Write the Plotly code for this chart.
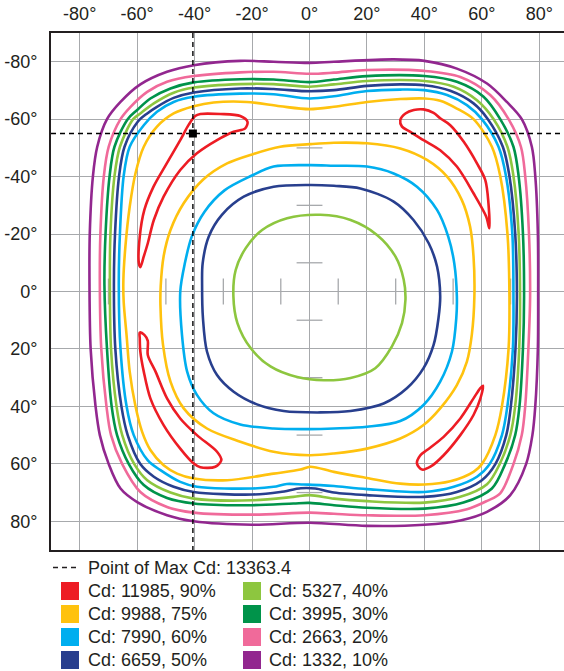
import plotly.graph_objects as go

# ---------------- data (degrees) ----------------
tick_vals = [-80, -60, -40, -20, 0, 20, 40, 60, 80]
tick_text = ["-80°", "-60°", "-40°", "-20°", "0°", "20°", "40°", "60°", "80°"]

max_cd = 13363.4
max_point = (-40.6, -55.0)

level_cd = [11985, 9988, 7990, 6659, 5327, 3995, 2663, 1332]
level_pct = [90, 75, 60, 50, 40, 30, 20, 10]
level_colors = ["#ED1C24", "#FFC20E", "#00AEEF", "#283F8E",
                "#8DC63F", "#00934A", "#F06A9A", "#92278F"]

center_tick_pos = [-70, -50, -30, -10, 10, 30, 50, 70]
center_tick_half = 4.5

c10 = [(0, -79.6), (8.5, -80.0), (29.3, -80.8), (40, -80.3), (51.3, -77.6), (61.8, -72.4),
       (68.7, -66.0), (73.9, -60.0), (77.4, -50.4), (78.6, -40.2), (79.5, -20.3), (79.6, 1.7),
       (79.5, 20), (78.6, 39.9), (77.6, 50), (75.4, 60.1), (69.9, 70.9), (61.8, 76.7),
       (52.5, 79.7), (40, 81.2), (20, 81.6), (0, 80.5), (-20, 81.2), (-40.3, 80), (-49.6, 77.9),
       (-60, 73.3), (-65.8, 68.6), (-69.9, 60.1), (-73, 50), (-74.5, 39.9), (-76.2, 20),
       (-76.6, -2.3), (-76.5, -20.3), (-75.4, -40.2), (-73.9, -50.4), (-70.5, -60), (-65.8, -66),
       (-58.9, -72.1), (-49.6, -76.5), (-40.3, -78.8), (-24.1, -80.3), (-12.5, -80), (0, -79.6)]

c20 = [(0, -75.8), (8.5, -76.2), (20, -77.1), (40, -76.8), (52.5, -74.7), (62.9, -68.4),
       (69.3, -60), (73.6, -50.4), (75.1, -40.2), (76.4, -20.3), (76.8, 1.7), (76.2, 20),
       (75.1, 39.9), (73.9, 50), (71, 60.1), (66.4, 70.3), (61.8, 72.9), (54.8, 75.8), (40, 77.9),
       (20, 77.9), (8.5, 77.4), (0, 77.0), (-20, 77.7), (-40.3, 77), (-49.6, 75), (-58.9, 69.8),
       (-65.2, 60.1), (-69.1, 50), (-70.7, 39.9), (-72.5, 20), (-73, -2.3), (-72.8, -20.3),
       (-71.6, -40.2), (-69.9, -50.4), (-65.8, -60), (-62.3, -64.3), (-56.5, -69.5), (-49.6, -73),
       (-40.3, -75), (-24.1, -76.3), (-12.5, -76.5), (0, -75.8)]

c30 = [(0, -72.9), (8.5, -73.8), (20, -75), (40, -75), (51.3, -73), (60.6, -67.8), (66.4, -60),
       (71, -50.4), (72.8, -40.2), (74.3, -20.3), (74.7, 1.7), (74.3, 20), (73.1, 39.9),
       (71.6, 50), (68.1, 60.1), (63.5, 68.6), (53.6, 73.5), (40, 75.6), (20, 75.3), (8.5, 74.4),
       (0, 73.6), (-5.6, 73.8), (-20, 74.4), (-40.3, 73.8), (-49.6, 71.9), (-57.7, 67.4),
       (-62.9, 60.1), (-67, 50), (-68.9, 39.9), (-70.5, 20), (-71.4, -2.3), (-71, -20.3),
       (-69.6, -40.2), (-67.9, -50.4), (-63.3, -60), (-60, -63.2), (-55.4, -67.2), (-48.4, -70.7),
       (-40.3, -72.8), (-24.1, -73.9), (-12.5, -73.8), (0, -72.9)]

c40_outer = [(0, -71.3), (8.5, -72.1), (20, -73.3), (40, -73.3), (50.2, -71.3), (58.3, -66.6),
             (64.1, -60), (68.9, -50.4), (71, -40.2), (72.8, -20.3), (73.3, 1.7), (73, 20),
             (71.6, 39.9), (69.9, 50), (66.2, 60.1), (61.8, 67.1), (52.5, 71.5), (40, 73.5),
             (20, 73), (8.5, 72.1), (0, 70.9), (-5.6, 71.5), (-20, 72.7), (-40.3, 72.1),
             (-48.4, 70), (-56.5, 65.7), (-61, 60.1), (-65.2, 50), (-67.2, 39.9), (-69.1, 20),
             (-69.5, -2.3), (-69.3, -20.3), (-67.9, -40.2), (-66, -50.4), (-61.4, -60),
             (-58.9, -62), (-54.2, -65.5), (-47.3, -69.2), (-40.3, -71), (-24.1, -72.2),
             (-12.5, -72.2), (0, -71.3)]

c40_inner = [(3.8, -26.7), (14.3, -24.9), (23.5, -19.7), (29.9, -12.2), (32.8, -4.1), (33.4, 2.9),
             (32.2, 11), (28.7, 19.1), (22.9, 26.7), (14.3, 30.1), (5, 30.9), (-4.3, 29.8),
             (-13.6, 26.1), (-20.5, 19.7), (-25.1, 11), (-26.5, 1.7), (-25.7, -7.5), (-22.2, -15.1),
             (-16.5, -21.4), (-7.8, -25.5), (3.8, -26.7)]

c50_outer = [(0, -69.7), (8.5, -70.1), (20, -71.6), (31.6, -72.1), (40, -71.8), (49, -69.9),
             (57.1, -65.5), (62.1, -60), (67.3, -50.4), (69.6, -40.2), (71.6, -20.3), (72.2, 1.7),
             (71.7, 20), (70.1, 39.9), (68.5, 50), (64.7, 60.1), (60, 65.7), (51.3, 69.8),
             (40, 71.5), (20, 70.9), (8.5, 70), (2, 68.6), (-3, 68.5), (-10.2, 69.8), (-20, 70.7),
             (-40.3, 69.8), (-47.3, 68), (-54.2, 64.5), (-58.9, 60.1), (-63.3, 50), (-65.5, 39.9),
             (-67.6, 20), (-68.1, -2.3), (-67.7, -20.3), (-66.3, -40.2), (-64.4, -50.4),
             (-59.8, -59.1), (-56.5, -62), (-53.1, -64.3), (-47.3, -67.4), (-40.3, -69.3),
             (-24.1, -70.7), (-12.5, -70.5), (0, -69.7)]

c50_inner = [(0, -37.1), (8.5, -36.8), (17.7, -35.9), (29.3, -31.3), (36.2, -24.9), (41.5, -16.8),
             (44.4, -8.7), (45.5, 1.7), (44.9, 9.3), (43.2, 18.6), (39.7, 26.7), (33.9, 33.7),
             (25.8, 39), (14.3, 41.6), (3.8, 42.1), (-9, 41.6), (-18.3, 39.3), (-26.4, 34.9),
             (-32.2, 29.1), (-35.7, 20.9), (-37.1, 9.3), (-37.4, -2.3), (-37.2, -9.8),
             (-35.1, -19.1), (-30.5, -26.7), (-22.9, -33), (-12.5, -36.5), (0, -37.1)]

c60_outer = [(0, -67.2), (8.5, -68), (20, -69.8), (31.6, -70.3), (40, -70.1), (47.9, -68.4),
             (54.8, -64.9), (60, -60), (65.8, -50.4), (68.4, -40.2), (70.6, -20.3), (71, 1.7),
             (70.8, 20), (68.9, 39.9), (67, 50), (62.7, 60.1), (58.3, 64.5), (50.2, 68), (40, 69.8),
             (20, 68.8), (8.5, 67.7), (3.7, 67.4), (-2.1, 67.2), (-7.9, 67), (-12.5, 68),
             (-20, 68.6), (-39.2, 68), (-45, 66.3), (-51.9, 62.2), (-56.3, 58.8), (-61.2, 50),
             (-63.7, 39.9), (-65.8, 20), (-66.4, -2.3), (-66, -20.3), (-64.7, -40.2),
             (-62.6, -50.4), (-57.7, -57.9), (-53.1, -62.6), (-47.3, -66), (-40.3, -67.8),
             (-24.1, -68.9), (-12.5, -68.7), (0, -67.2)]

c60_inner = [(0, -44), (8.5, -43.8), (20, -43.5), (29.3, -41.1), (37.4, -36.5), (44.4, -28.4),
             (48.3, -19.1), (50.4, -9.8), (51.3, 1.7), (51.1, 9.3), (49.6, 20.9), (45.5, 31.4),
             (39.7, 39.5), (31.6, 45.1), (20, 47.1), (8.5, 47.7), (0, 47.9), (-12.5, 47.7),
             (-24.1, 46.3), (-33.4, 42.4), (-39.2, 36), (-42.6, 27.9), (-44.4, 15.1), (-45, 0),
             (-43.4, -9.8), (-41, -19.1), (-36.6, -27.7), (-29.6, -35.2), (-20.2, -40.3),
             (-12.5, -43.5), (0, -44)]

c75_outer = [(0, -63.5), (8.5, -64.3), (20, -66), (31.6, -67), (40, -67.2), (45.5, -66.4),
             (51.3, -63.7), (57.1, -60), (63.5, -50.4), (66.4, -40.2), (68.9, -20.3), (69.6, 1.7),
             (69.3, 20), (67, 39.9), (64.7, 50), (60, 60.1), (57.1, 62.8), (49, 66.1), (40, 67.2),
             (31.6, 66.9), (20, 64.9), (8.5, 62.8), (0.3, 61), (-3.2, 62), (-12.5, 63.4),
             (-28.7, 65.7), (-40.3, 65.1), (-46.1, 63.4), (-50.8, 60.5), (-55.4, 55.2),
             (-58.3, 48.8), (-60.6, 39.9), (-62.6, 27.9), (-63.7, 15.1), (-64.7, 3.5),
             (-64.8, -4), (-64.1, -15.6), (-62.6, -29.5), (-60.6, -41.1), (-57.7, -50.4),
             (-53.1, -57.4), (-47.3, -62), (-40.3, -64.5), (-33.4, -65.8), (-21.8, -66),
             (-10.2, -64.5), (0, -63.5)]

c75_inner = [(0, -51.3), (8.5, -51.8), (20, -51.6), (31.6, -49.8), (40.9, -45.8), (47.9, -40),
             (53, -31.9), (55.9, -22.6), (57.1, -12.2), (57.4, 1.7), (56.5, 15.1), (54.8, 24.4),
             (51.3, 32.6), (45.5, 40.7), (39.7, 46.5), (31.6, 51.2), (20, 54.7), (8.5, 56.4),
             (0, 57), (-12.5, 55.8), (-24.1, 52.3), (-35.7, 47.7), (-43.8, 40.7), (-48.4, 31.4),
             (-51, 18.6), (-51.9, 4.7), (-51.8, -2), (-50.8, -12.2), (-48.4, -21.4),
             (-43.8, -30.7), (-37, -39), (-28.7, -44.6), (-19.5, -47.9), (-10.2, -50.4), (0, -51.3)]

c90_tl = [(-38, -61.8), (-31.1, -61.8), (-24.1, -61.1), (-21.6, -59.1), (-22.4, -56.8),
          (-26.4, -55.6), (-32.2, -52.7), (-39.2, -48.1), (-45, -42.3), (-50.8, -33),
          (-54.2, -24.9), (-56.3, -16.8), (-57.7, -12.2), (-58.9, -8.5), (-59.4, -9.8),
          (-59.1, -19.1), (-57.5, -28.4), (-54.3, -36.5), (-49.7, -44.6), (-45, -52.7),
          (-42.1, -58), (-39.8, -61.1), (-38, -61.8)]

c90_tr = [(36.3, -63.2), (39.7, -63.4), (43.2, -62.2), (45.5, -60.3), (49, -57.9), (53.7, -52.1),
          (58.3, -44.6), (61.2, -38.8), (62.3, -30.7), (62.6, -22), (61.5, -26.1), (57.1, -34.2),
          (51.3, -43.5), (45.5, -49.2), (39.7, -52.7), (35.1, -55.6), (32.2, -57.4),
          (31.6, -59.7), (33.4, -62), (36.3, -63.2)]

c90_br = [(60.4, 32.8), (59.5, 37.2), (57.1, 43), (52.5, 50), (46.7, 57), (42.1, 61), (39.2, 62),
          (37.4, 59.9), (38.6, 57), (40.9, 55.2), (46.7, 50.6), (52.5, 44.2), (57.1, 37.2),
          (59.4, 33.7), (60.4, 32.8)]

c90_bl = [(-59.1, 14.3), (-57.5, 15.1), (-56.3, 17.2), (-56.3, 22.1), (-53.6, 27.9), (-49.6, 37.2),
          (-45, 44.2), (-39.2, 50), (-32.2, 55.8), (-30.7, 58.7), (-32.8, 61), (-38, 61.2),
          (-40.3, 59.9), (-45, 54.7), (-50.8, 46.5), (-55.4, 37.2), (-57.7, 27.9), (-58.9, 20.9),
          (-59.1, 16.3), (-59.1, 14.3)]

level_curves = [
    [c90_tl, c90_tr, c90_br, c90_bl],
    [c75_outer, c75_inner],
    [c60_outer, c60_inner],
    [c50_outer, c50_inner],
    [c40_outer, c40_inner],
    [c30],
    [c20],
    [c10],
]

# ---------------- figure ----------------
TEXT = "#231F20"
GRID = "#A7A9AC"
FONT = "Liberation Sans, Arial, sans-serif"

fig = go.Figure()

# small cross ticks on the central axes
tx, ty = [], []
for p in center_tick_pos:
    tx += [p, p, None, -center_tick_half, center_tick_half, None]
    ty += [-center_tick_half, center_tick_half, None, p, p, None]
fig.add_trace(go.Scatter(x=tx, y=ty, mode="lines", line=dict(color=GRID, width=1.3),
                         hoverinfo="skip", showlegend=False))

# contours (outermost first)
for idx in reversed(range(len(level_cd))):
    for curve in level_curves[idx]:
        fig.add_trace(go.Scatter(
            x=[p[0] for p in curve], y=[p[1] for p in curve], mode="lines",
            line=dict(color=level_colors[idx], width=2.6, shape="spline", smoothing=0.9),
            hoverinfo="skip", showlegend=False))

# max point crosshair
fig.add_trace(go.Scatter(x=[max_point[0], max_point[0]], y=[-90, 90], mode="lines",
                         line=dict(color="black", width=1.4, dash="5px,4px"),
                         hoverinfo="skip", showlegend=False))
fig.add_trace(go.Scatter(x=[-90, 90], y=[max_point[1], max_point[1]], mode="lines",
                         line=dict(color="black", width=1.4, dash="5px,4px"),
                         hoverinfo="skip", showlegend=False))
fig.add_trace(go.Scatter(x=[max_point[0]], y=[max_point[1]], mode="markers",
                         marker=dict(symbol="square", size=8, color="black"),
                         hoverinfo="skip", showlegend=False))

# ---------------- legend (below the plot) ----------------
L, W, B, H = 51, 513, 550, 517


def px_x(px):
    return (px - L) / W


def px_y(py):
    return (B - py) / H


shapes = []
annotations = []
leg_y0 = 567.5
shapes.append(dict(type="line", xref="paper", yref="paper",
                   x0=px_x(53), x1=px_x(80), y0=px_y(leg_y0), y1=px_y(leg_y0),
                   line=dict(color=TEXT, width=1.5, dash="5px,4px")))
annotations.append(dict(xref="paper", yref="paper", x=px_x(86), y=px_y(leg_y0),
                        xanchor="left", yanchor="middle", showarrow=False,
                        text=f"Point of Max Cd: {max_cd}",
                        font=dict(family=FONT, size=18, color=TEXT)))
row_centers = [591, 614, 637, 660]
col_sq = [61, 243]
col_tx = [86, 267]
for i in range(len(level_cd)):
    col, row = divmod(i, 4)
    cy = row_centers[row]
    shapes.append(dict(type="rect", xref="paper", yref="paper",
                       x0=px_x(col_sq[col]), x1=px_x(col_sq[col] + 18),
                       y0=px_y(cy - 9), y1=px_y(cy + 9),
                       fillcolor=level_colors[i], line=dict(width=0)))
    annotations.append(dict(xref="paper", yref="paper", x=px_x(col_tx[col]), y=px_y(cy),
                            xanchor="left", yanchor="middle", showarrow=False,
                            text=f"Cd: {level_cd[i]}, {level_pct[i]}%",
                            font=dict(family=FONT, size=18, color=TEXT)))

axis_common = dict(
    tickvals=tick_vals, ticktext=tick_text, showgrid=True, gridcolor=GRID, gridwidth=1.3,
    zeroline=False, showline=True, linecolor=TEXT, linewidth=2, ticks="",
    tickfont=dict(family=FONT, size=18, color=TEXT), fixedrange=True, automargin=False,
)

fig.update_layout(
    width=564, height=671,
    margin=dict(l=L, r=0, t=33, b=671 - B, pad=0),
    paper_bgcolor="white", plot_bgcolor="white",
    showlegend=False,
    xaxis=dict(range=[-90, 88.6], side="top", mirror=True, ticklabelstandoff=4, **axis_common),
    yaxis=dict(range=[90, -90], mirror=False, ticklabelstandoff=8, **axis_common),
    shapes=shapes, annotations=annotations,
)

fig.write_html(
    "out.html",
    config={"displayModeBar": False},
    post_script="document.body.style.margin='0';document.body.style.overflow='hidden';",
)
